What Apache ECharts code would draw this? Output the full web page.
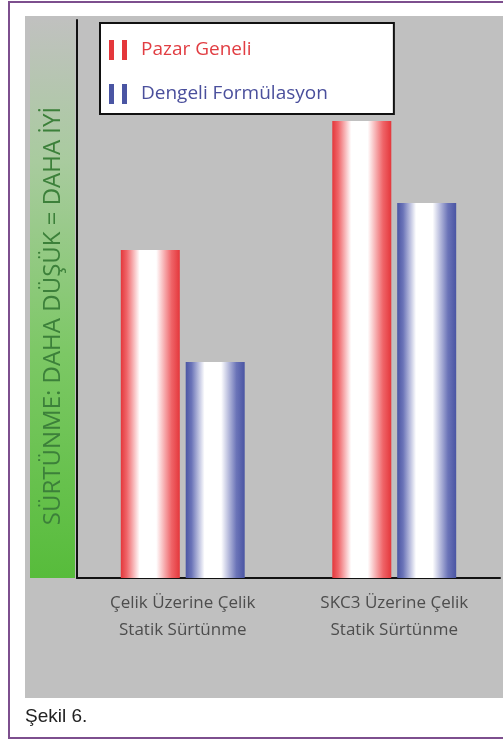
<!DOCTYPE html>
<html>
<head>
<meta charset="utf-8">
<title>Şekil 6</title>
<script src="https://cdn.jsdelivr.net/npm/echarts@6/dist/echarts.min.js"></script>
<style>
    html, body { margin: 0; padding: 0; background: #fff; }
    #chart { width: 503px; height: 742px; }
</style>
</head>
<body>
<div id="chart"></div>
<script>
    // veriler (göreli sürtünme, eksen 0-100)
    const categories = ['Çelik Üzerine Çelik\nStatik Sürtünme', 'SKC3 Üzerine Çelik\nStatik Sürtünme']
    const seriesNames = ['Pazar Geneli', 'Dengeli Formülasyon']
    const pazarGeneli = [58.8, 81.9]
    const dengeliFormulasyon = [38.7, 67.2]

    const redColor = '#e4373b'
    const blueColor = '#4a55a3'

    // çubuklar için yatay degrade
    function barGradient(edge, soft) {
        return new echarts.graphic.LinearGradient(0, 0, 1, 0, [
            { offset: 0, color: edge },
            { offset: 0.1, color: soft },
            { offset: 0.32, color: '#ffffff' },
            { offset: 0.6, color: '#ffffff' },
            { offset: 0.86, color: soft },
            { offset: 1, color: edge }
        ])
    }

    const chart = echarts.init(document.getElementById('chart'))
    const option = {
        animation: false,
        textStyle: { fontFamily: 'Open Sans' },
        graphic: {
            elements: [
                {
                    type: 'rect', z: -20,
                    shape: { x: 25, y: 16, width: 490, height: 682 },
                    style: { fill: '#c0c0c0' }
                },
                {
                    type: 'rect', z: -10,
                    shape: { x: 30, y: 20, width: 45, height: 558 },
                    style: {
                        fill: new echarts.graphic.LinearGradient(0, 0, 0, 1, [
                            { offset: 0, color: '#c0c1bf' },
                            { offset: 0.25, color: '#a9cb9f' },
                            { offset: 0.6, color: '#7cc865' },
                            { offset: 1, color: '#57bc3b' }
                        ])
                    }
                },
                {
                    type: 'text', left: 25, top: 707,
                    style: {
                        text: 'Şekil 6.',
                        fill: '#222',
                        font: '19px "Liberation Sans"'
                    }
                },
                {
                    type: 'rect',
                    shape: { x: 9, y: 2, width: 520, height: 736 },
                    style: { fill: 'none', stroke: '#7d4f8e', lineWidth: 2 }
                }
            ]
        },
        legend: {
            orient: 'vertical',
            left: 100,
            top: 23,
            backgroundColor: '#ffffff',
            borderColor: '#111',
            borderWidth: 2,
            borderRadius: 0,
            padding: [17, 66, 10, 9],
            itemGap: 24,
            itemWidth: 18,
            itemHeight: 20,
            icon: 'path://M0,0H5V20H0Z M13,0H18V20H13Z',
            textStyle: { fontSize: 19, padding: [0, 0, 0, 9] },
            data: [
                { name: seriesNames[0], itemStyle: { color: redColor }, textStyle: { color: '#e13d42' } },
                { name: seriesNames[1], itemStyle: { color: blueColor }, textStyle: { color: '#4a4f9c' } }
            ]
        },
        grid: {
            left: 77,
            right: 3,
            top: 20,
            bottom: 164
        },
        xAxis: {
            type: 'category',
            data: categories,
            axisLine: { lineStyle: { color: '#111', width: 2 } },
            axisTick: { show: false },
            axisLabel: {
                color: '#4d4d4d',
                fontSize: 17,
                lineHeight: 27,
                margin: 12
            }
        },
        yAxis: {
            type: 'value',
            min: 0,
            max: 100,
            name: 'SÜRTÜNME: DAHA DÜŞÜK = DAHA İYİ',
            nameLocation: 'middle',
            nameRotate: 90,
            nameGap: 12,
            nameTextStyle: { color: '#3c803a', fontSize: 24, padding: [0, 34, 0, 0] },
            axisLine: { show: true, lineStyle: { color: '#111', width: 2 } },
            axisTick: { show: false },
            axisLabel: { show: false },
            splitLine: { show: false }
        },
        series: [
            {
                name: seriesNames[0],
                type: 'bar',
                barWidth: 59,
                barGap: '10%',
                itemStyle: { color: barGradient(redColor, '#ef6468') },
                data: pazarGeneli
            },
            {
                name: seriesNames[1],
                type: 'bar',
                barWidth: 59,
                barGap: '10%',
                itemStyle: { color: barGradient(blueColor, '#6b74b8') },
                data: dengeliFormulasyon
            }
        ]
    }
    chart.setOption(option)
</script>
</body>
</html>
